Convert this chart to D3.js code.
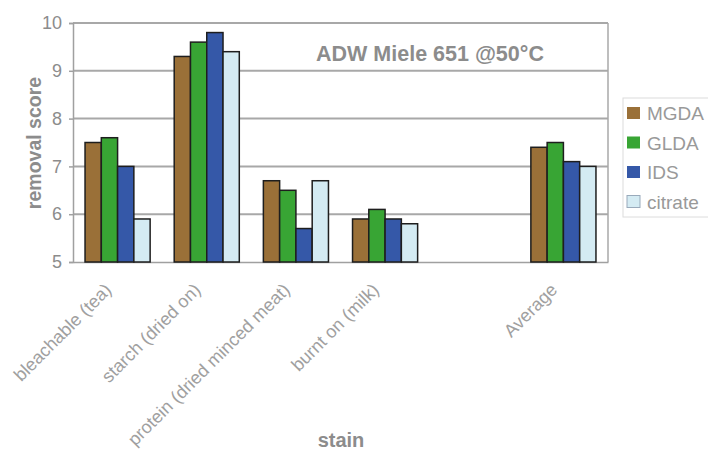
<!DOCTYPE html>
<html><head><meta charset="utf-8">
<script src="https://cdn.jsdelivr.net/npm/d3@7"></script>
<style>body{margin:0;background:#fff;}svg{display:block;font-family:Arial,"Liberation Sans",sans-serif;}</style>
</head><body><svg id="c" width="708" height="450"></svg>
<script>
const categories = ["bleachable (tea)", "starch (dried on)", "protein (dried minced meat)", "burnt on (milk)", "", "Average"];
const seriesNames = ["MGDA", "GLDA", "IDS", "citrate"];
const MGDA    = [7.5, 9.3, 6.7, 5.9, null, 7.4];
const GLDA    = [7.6, 9.6, 6.5, 6.1, null, 7.5];
const IDS     = [7.0, 9.8, 5.7, 5.9, null, 7.1];
const citrate = [5.9, 9.4, 6.7, 5.8, null, 7.0];
const yTicks = [5, 6, 7, 8, 9, 10];
const colors = ["#9a7038", "#38a534", "#3558a8", "#d4ebf3"];
const seriesValues = [MGDA, GLDA, IDS, citrate];

const svg = d3.select("#c");
const L = 73, R = 608, T = 23, B = 262;
const x = d3.scaleBand().domain(d3.range(categories.length)).range([L, R]).paddingInner(0.27).paddingOuter(0.135);
const xs = d3.scaleBand().domain(d3.range(seriesNames.length)).range([0, x.bandwidth()]);
const y = d3.scaleLinear().domain([5, 10]).range([B, T]);
const grey = "#8c8c8c";
const FF = "Arial, 'Liberation Sans', sans-serif";

// gridlines
svg.append("g").selectAll("line").data(yTicks.filter(d => d > 5)).join("line")
  .attr("x1", L).attr("x2", R).attr("y1", d => y(d)).attr("y2", d => y(d))
  .attr("stroke", "#a8a8a8").attr("stroke-width", 2);
// right border
svg.append("line").attr("x1", R).attr("x2", R).attr("y1", T).attr("y2", B).attr("stroke", "#a8a8a8").attr("stroke-width", 1.5);

// y axis
const ya = svg.append("g").attr("transform", `translate(${L},0)`)
  .call(d3.axisLeft(y).tickValues(yTicks).tickFormat(d3.format("d")).tickSize(4).tickPadding(7));
ya.selectAll("path,line").attr("stroke", "#a0a0a0").attr("stroke-width", 1.5);
ya.selectAll("text").attr("fill", grey).attr("font-size", 18).attr("font-family", FF);

// x axis
const xa = svg.append("g").attr("transform", `translate(0,${B})`).call(d3.axisBottom(x).tickFormat(i => categories[i]).tickSize(0).tickPadding(0));
xa.select("path").attr("stroke", "#a0a0a0").attr("stroke-width", 1.5);
xa.selectAll("text").attr("fill", "#a0a0a0").attr("font-size", 18).attr("font-family", FF)
  .attr("text-anchor", "end").attr("dy", 0)
  .attr("transform", "translate(-5,29) rotate(-45)");

// bars
const groups = svg.append("g").selectAll("g").data(categories.map((c, i) => i)).join("g")
  .attr("transform", i => `translate(${x(i)},0)`);
groups.selectAll("rect").data(i => seriesValues.map((s, k) => ({k, v: s[i]})).filter(d => d.v != null)).join("rect")
  .attr("x", d => xs(d.k)).attr("width", xs.bandwidth())
  .attr("y", d => y(d.v)).attr("height", d => B - y(d.v))
  .attr("fill", d => colors[d.k]).attr("stroke", "#1e1e1e").attr("stroke-width", 1.5);

// title
svg.append("text").attr("x", 316).attr("y", 61).attr("fill", grey).attr("font-size", 21.5).attr("font-weight", "bold")
  .text("ADW Miele 651 @50°C");

// axis titles
svg.append("text").attr("transform", "translate(41,143) rotate(-90)").attr("text-anchor", "middle")
  .attr("fill", grey).attr("font-size", 19.5).attr("font-weight", "bold").text("removal score");
svg.append("text").attr("x", 341).attr("y", 447).attr("text-anchor", "middle")
  .attr("fill", grey).attr("font-size", 20).attr("font-weight", "bold").text("stain");

// legend
const lg = svg.append("g");
lg.append("rect").attr("x", 623).attr("y", 98).attr("width", 90).attr("height", 119)
  .attr("fill", "#fff").attr("stroke", "#dcdcdc").attr("stroke-width", 1);
const li = lg.selectAll("g").data(seriesNames).join("g").attr("transform", (d, i) => `translate(627,${113 + i * 29.5})`);
li.append("rect").attr("y", -6).attr("width", 13).attr("height", 12).attr("fill", (d, i) => colors[i])
  .attr("stroke", (d, i) => i === 3 ? "#9ab" : "none");
li.append("text").attr("x", 20).attr("y", 7).attr("fill", "#999").attr("font-size", 19).text(d => d);
</script></body></html>
